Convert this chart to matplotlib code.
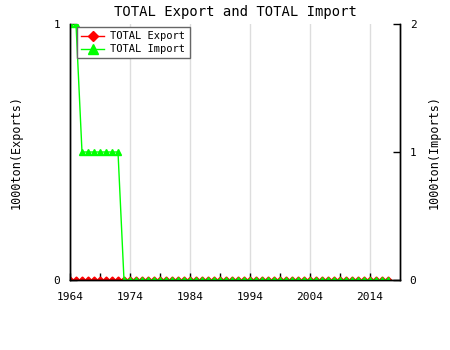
import matplotlib
matplotlib.use("Agg")
import matplotlib.pyplot as plt
import numpy as np

years = list(range(1964, 2018))
exports = [0] * len(years)
imports = [2, 2, 1, 1, 1, 1, 1, 1, 1] + [0] * (len(years) - 9)
xticks = [1964, 1974, 1984, 1994, 2004, 2014]

plt.rcParams['font.family'] = ['DejaVu Sans Mono']

fig = plt.figure(figsize=(4.5, 3.5), dpi=100)
ax = fig.add_axes([70/450, 70/350, 330/450, 256/350])
ax2 = ax.twinx()

l1, = ax.plot(years, exports, color='red', marker='D', markersize=3.5, linewidth=1, label='TOTAL Export')
l2, = ax2.plot(years, imports, color='#00ff00', marker='^', markersize=5, linewidth=1, label='TOTAL Import')

ax.set_xlim(1964, 2019)
ax.set_ylim(0, 1)
ax2.set_ylim(0, 2)
ax.set_xticks(xticks)
ax.set_xticks(range(1964, 2019, 5), minor=True)
ax.set_yticks([0, 1])
ax2.set_yticks([0, 1, 2])
ax.grid(axis='x', which='major', color='#dddddd', linewidth=1)
ax.set_axisbelow(True)

for a in (ax, ax2):
    a.tick_params(direction='in', length=5, labelsize=8, width=1, pad=7)
    a.tick_params(which='minor', direction='in', length=5, width=1)
    for s in a.spines.values():
        s.set_linewidth(1)
ax.tick_params(axis='x', pad=9)
ax.spines['top'].set_visible(False)
ax2.spines['top'].set_visible(False)

ax.set_ylabel('1000ton(Exports)', fontsize=8.5, labelpad=22)
ax2.set_ylabel('1000ton(Imports)', fontsize=8.5, labelpad=8)
ax.set_title('TOTAL Export and TOTAL Import', fontsize=10, pad=6)

leg = ax2.legend(handles=[l1, l2], loc='upper left', fontsize=7.5, fancybox=False,
                 edgecolor='#666666', framealpha=1, borderpad=0.4, handlelength=2.2,
                 handletextpad=0.6, labelspacing=0.3, borderaxespad=0, markerscale=1.4,
                 bbox_to_anchor=(7/330, 1 - 3/256))
leg.get_frame().set_linewidth(1)

fig.savefig('out.png', dpi=100)
